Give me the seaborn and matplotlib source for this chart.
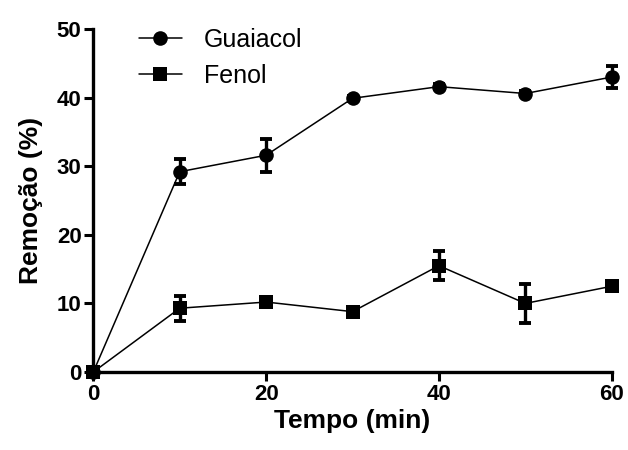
import matplotlib
matplotlib.use("Agg")
import matplotlib.pyplot as plt
import seaborn as sns
import pandas as pd

# Removal over time for the two compounds (mean and error)
tempo = [0, 10, 20, 30, 40, 50, 60]
guaiacol = [0.0, 29.2, 31.6, 39.9, 41.6, 40.6, 43.0]
guaiacol_err = [0.0, 1.8, 2.4, 0.4, 0.4, 0.4, 1.65]
fenol = [0.0, 9.3, 10.2, 8.8, 15.5, 10.0, 12.5]
fenol_err = [0.0, 1.8, 0.5, 0.5, 2.1, 2.9, 0.4]

sns.set_theme(style="ticks")
plt.rcParams["font.family"] = ["Liberation Sans", "DejaVu Sans"]

df = pd.DataFrame({
    "Tempo": tempo * 2,
    "Remocao": guaiacol + fenol,
    "Composto": ["Guaiacol"] * len(tempo) + ["Fenol"] * len(tempo),
})

fig = plt.figure(figsize=(6.28, 4.5), dpi=100)
ax = fig.add_axes([0.1486, 0.1733, 0.8255, 0.7622])

sns.lineplot(data=df, x="Tempo", y="Remocao", hue="Composto", style="Composto",
             markers={"Guaiacol": "o", "Fenol": "s"}, dashes=False,
             palette={"Guaiacol": "black", "Fenol": "black"},
             markersize=10.5, linewidth=1.1, markeredgewidth=0,
             ax=ax, clip_on=False, zorder=3, legend=True)

for y, e in [(guaiacol, guaiacol_err), (fenol, fenol_err)]:
    ax.errorbar(tempo, y, yerr=e, fmt="none", ecolor="black", elinewidth=2.4,
                capsize=4.5, capthick=2.8, clip_on=False, zorder=2)

# square markers a little smaller than circles
for line in ax.get_lines():
    if line.get_marker() == "s":
        line.set_markersize(9.5)

ax.set_xlim(0, 60)
ax.set_ylim(0, 50)
ax.set_xticks([0, 20, 40, 60])
ax.set_yticks([0, 10, 20, 30, 40, 50])

for side in ["top", "right"]:
    ax.spines[side].set_visible(False)
for side in ["left", "bottom"]:
    ax.spines[side].set_linewidth(2.4)
    ax.spines[side].set_color("black")

ax.tick_params(axis="both", which="major", length=6.5, width=2.2, color="black",
               labelsize=16, pad=2, labelcolor="black")
for lbl in ax.get_xticklabels() + ax.get_yticklabels():
    lbl.set_fontweight("bold")

ax.set_xlabel("Tempo (min)", fontsize=19, fontweight="bold", labelpad=3, color="black")
ax.set_ylabel("Remoção (%)", fontsize=19, fontweight="bold", labelpad=10, color="black")

leg = ax.legend(title=None, loc="upper left", bbox_to_anchor=(0.045, 1.07),
                frameon=False, fontsize=18, handlelength=1.7, handletextpad=0.9,
                labelspacing=0.5)
for h in leg.legend_handles:
    h.set_linewidth(1.1)
for t in leg.get_texts():
    t.set_color("black")

fig.savefig("out.png", dpi=100)
